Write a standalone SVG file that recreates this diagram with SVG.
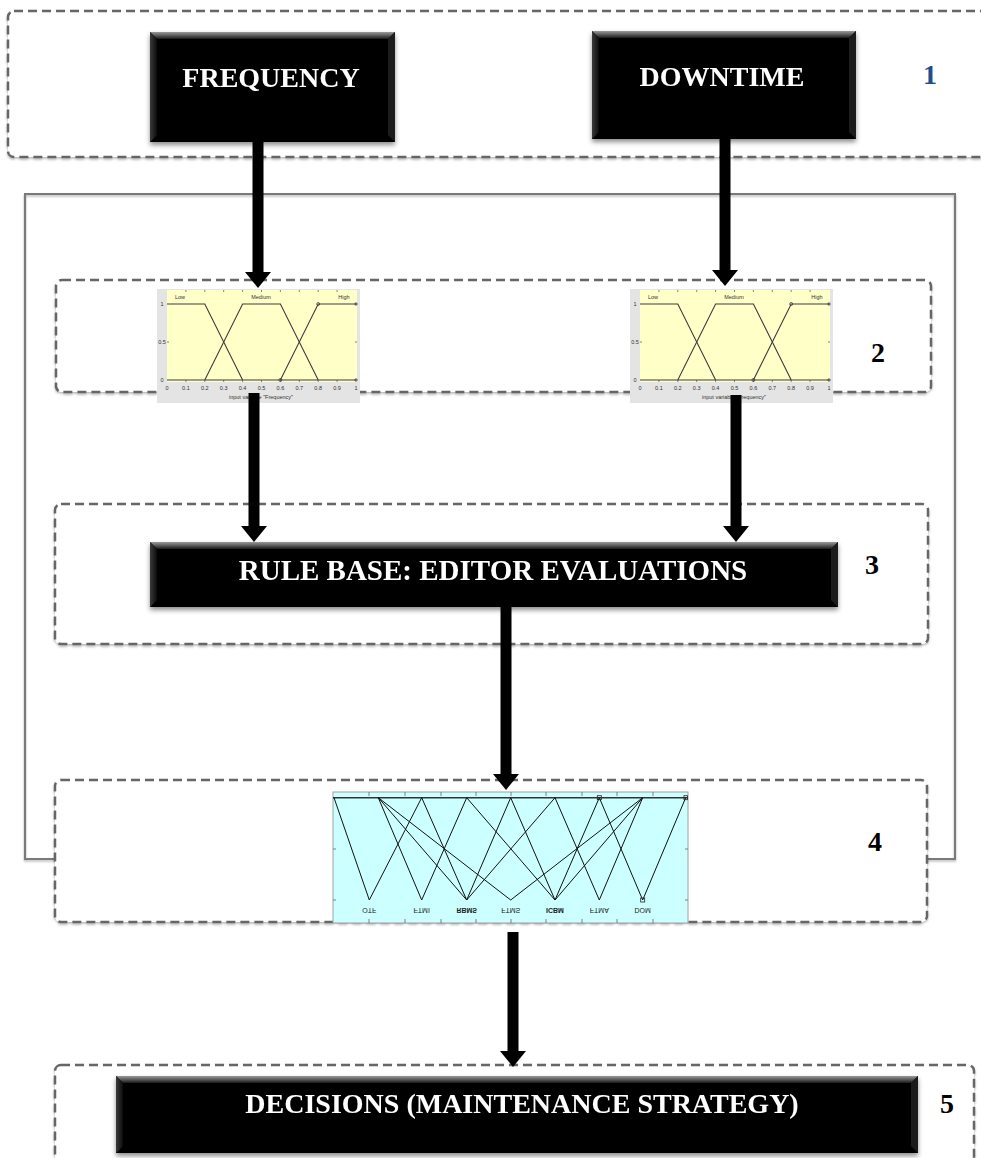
<svg xmlns="http://www.w3.org/2000/svg" xmlns:xlink="http://www.w3.org/1999/xlink" width="981" height="1158" viewBox="0 0 981 1158">
  <style>
    .stage { fill: #ffffff; stroke: #666666; stroke-width: 2.5; stroke-dasharray: 9 5; }
    .frame { fill: none; stroke: #7a7a7a; stroke-width: 2; }
    .title { font-family: "Liberation Serif", "Times New Roman", serif; font-weight: bold; font-size: 28px; fill: #ffffff; text-anchor: middle; }
    .num { font-family: "Liberation Serif", "Times New Roman", serif; font-weight: bold; font-size: 28px; fill: #000000; text-anchor: middle; }
    .arrow { stroke: #000000; stroke-width: 11; fill: none; marker-end: url(#head); }
    .mf { fill: none; stroke: #3c3c3c; stroke-width: 1.1; }
    .tick { stroke: #666666; stroke-width: 0.8; }
    .tiny { font-family: "Liberation Sans", Arial, sans-serif; font-size: 5.5px; fill: #333333; text-anchor: middle; }
    .mfo { fill: none; stroke: #111111; stroke-width: 1; }
    .lab { font-family: "Liberation Sans", Arial, sans-serif; font-size: 7px; fill: #222222; text-anchor: middle; }
  </style>
  <defs>
    <filter id="shadow" x="-10%" y="-10%" width="120%" height="130%">
      <feDropShadow dx="0" dy="3" stdDeviation="2.5" flood-color="#000000" flood-opacity="0.45"/>
    </filter>
    <filter id="soft" x="-5%" y="-5%" width="110%" height="110%">
      <feDropShadow dx="0" dy="1.5" stdDeviation="1" flood-color="#000000" flood-opacity="0.3"/>
    </filter>
    <linearGradient id="bevelTop" x1="0" y1="0" x2="0" y2="1">
      <stop offset="0" stop-color="#9a9a9a"/>
      <stop offset="1" stop-color="#1a1a1a"/>
    </linearGradient>
    <linearGradient id="bevelSide" x1="0" y1="0" x2="1" y2="0">
      <stop offset="0" stop-color="#3a3a3a"/>
      <stop offset="1" stop-color="#0a0a0a"/>
    </linearGradient>
    <marker id="head" markerUnits="userSpaceOnUse" markerWidth="16" markerHeight="26" refX="2" refY="13" orient="auto">
      <path d="M0,0 L16,13 L0,26 Z" fill="#000000"/>
    </marker>

    <!-- membership-function plot for the two inputs (Low / Medium / High) -->
    <g id="mfPlot">
      <rect x="0" y="0" width="203" height="114" fill="#e4e4e4"/>
      <rect x="10" y="1" width="190" height="92" fill="#ffffc8"/>
      <g class="tick">
        <path d="M28.9,1 v2 M47.8,1 v2 M66.7,1 v2 M85.6,1 v2 M104.5,1 v2 M123.4,1 v2 M142.3,1 v2 M161.2,1 v2 M180.1,1 v2"/>
        <path d="M28.9,93 v-2 M47.8,93 v-2 M66.7,93 v-2 M85.6,93 v-2 M104.5,93 v-2 M123.4,93 v-2 M142.3,93 v-2 M161.2,93 v-2 M180.1,93 v-2"/>
        <path d="M200,15 h-2 M200,53 h-2 M200,91 h-2 M10,53 h2"/>
      </g>
      <path class="mf" d="M10,91 L199,91"/>
      <path class="mf" d="M10,15 L47.8,15 L85.6,91"/>
      <path class="mf" d="M47.8,91 L85.6,15 L123.4,15 L161.2,91"/>
      <path class="mf" d="M123.4,91 L161.2,15 L199,15"/>
      <g fill="none" stroke="#3c3c3c" stroke-width="0.8">
        <circle cx="161.2" cy="15" r="1.5"/>
        <circle cx="199" cy="15" r="1.2"/>
        <circle cx="123.4" cy="91" r="1.5"/>
        <circle cx="199" cy="91" r="1.2"/>
      </g>
      <text class="tiny" x="23" y="10">Low</text>
      <text class="tiny" x="104" y="10">Medium</text>
      <text class="tiny" x="187" y="10">High</text>
      <text class="tiny" x="5" y="17">1</text>
      <text class="tiny" x="5" y="55">0.5</text>
      <text class="tiny" x="5" y="93">0</text>
      <g class="tiny">
        <text x="10" y="101">0</text>
        <text x="28.9" y="101">0.1</text>
        <text x="47.8" y="101">0.2</text>
        <text x="66.7" y="101">0.3</text>
        <text x="85.6" y="101">0.4</text>
        <text x="104.5" y="101">0.5</text>
        <text x="123.4" y="101">0.6</text>
        <text x="142.3" y="101">0.7</text>
        <text x="161.2" y="101">0.8</text>
        <text x="180.1" y="101">0.9</text>
        <text x="199" y="101">1</text>
      </g>
      <text class="tiny" x="104" y="110">input variable "Frequency"</text>
    </g>
  </defs>

  <rect width="981" height="1158" fill="#ffffff"/>

  <!-- solid frame around stages 2 to 4 -->
  <rect id="inference-frame" class="frame" x="25" y="194" width="930" height="665" filter="url(#soft)"/>

  <!-- stage 1: inputs -->
  <g id="stage-1">
    <rect class="stage" x="8" y="11" width="1000" height="146" rx="6" filter="url(#soft)"/>
    <text x="930" y="84" class="num" fill="#1f4e8c" style="fill:#1f4e8c">1</text>
  </g>
  <g id="frequency" filter="url(#shadow)">
    <rect x="150" y="32" width="245" height="110" fill="#050505"/>
    <polygon points="150,32 395,32 388,39 157,39" fill="url(#bevelTop)"/>
    <polygon points="150,32 157,39 157,135 150,142" fill="url(#bevelSide)"/>
    <polygon points="395,32 388,39 388,135 395,142" fill="#1c1c1c"/>
    <text class="title" x="271" y="87">FREQUENCY</text>
  </g>
  <g id="downtime" filter="url(#shadow)">
    <rect x="592" y="31" width="264" height="108" fill="#050505"/>
    <polygon points="592,31 856,31 849,38 599,38" fill="url(#bevelTop)"/>
    <polygon points="592,31 599,38 599,132 592,139" fill="url(#bevelSide)"/>
    <polygon points="856,31 849,38 849,132 856,139" fill="#1c1c1c"/>
    <text class="title" x="722" y="86">DOWNTIME</text>
  </g>

  <!-- stage 2: fuzzification -->
  <g id="stage-2">
    <rect class="stage" x="56" y="280" width="875" height="112" rx="6" filter="url(#soft)"/>
    <text class="num" x="878" y="362">2</text>
  </g>
  <g id="frequency-mf">
    <use xlink:href="#mfPlot" transform="translate(157,289)"/>
  </g>
  <g id="downtime-mf">
    <use xlink:href="#mfPlot" transform="translate(630,289)"/>
  </g>

  <!-- stage 3: rule base -->
  <g id="stage-3">
    <rect class="stage" x="55" y="504" width="873" height="140" rx="6" filter="url(#soft)"/>
    <text class="num" x="872" y="574">3</text>
  </g>
  <g id="rule-base" filter="url(#shadow)">
    <rect x="150" y="542" width="688" height="65" fill="#050505"/>
    <polygon points="150,542 838,542 831,549 157,549" fill="url(#bevelTop)"/>
    <polygon points="150,542 157,549 157,600 150,607" fill="url(#bevelSide)"/>
    <polygon points="838,542 831,549 831,600 838,607" fill="#1c1c1c"/>
    <text class="title" x="493" y="580" style="font-size:29px">RULE BASE: EDITOR EVALUATIONS</text>
  </g>

  <!-- stage 4: output membership functions -->
  <g id="stage-4">
    <rect class="stage" x="55" y="780" width="872" height="142" rx="6" filter="url(#soft)"/>
    <text class="num" x="875" y="851">4</text>
  </g>
  <g id="output-mf">
    <rect x="333" y="792" width="355" height="131" fill="#ccffff" stroke="#a0a0a0" stroke-width="1"/>
    <g class="tick">
      <path d="M369,792 v4 M405,792 v4 M441,792 v4 M476,792 v4 M511,792 v4 M546,792 v4 M582,792 v4 M617,792 v4 M653,792 v4"/>
      <path d="M369,923 v-4 M405,923 v-4 M441,923 v-4 M476,923 v-4 M511,923 v-4 M546,923 v-4 M582,923 v-4 M617,923 v-4 M653,923 v-4"/>
      <path d="M688,849 h-3 M688,900 h-3 M333,849 h3 M333,900 h3"/>
    </g>
    <path d="M333,797.7 H688" stroke="#333333" stroke-width="1.6"/>
    <path class="mfo" d="M334,797.7 L369.3,900 L421.7,797.7"/>
    <path class="mfo" d="M378.3,797.7 L421.7,900 L466.7,797.7"/>
    <path class="mfo" d="M378.3,797.7 L466.7,900 L510.7,797.7"/>
    <path class="mfo" d="M421.7,797.7 L466.7,900 L555,797.7"/>
    <path class="mfo" d="M378.3,797.7 L510.7,900 L642.7,797.7"/>
    <path class="mfo" d="M466.7,797.7 L555,900 L642.7,797.7"/>
    <path class="mfo" d="M510.7,797.7 L555,900 L599.3,797.7"/>
    <path class="mfo" d="M555,797.7 L599.3,900 L642.7,797.7"/>
    <path class="mfo" d="M599.3,797.7 L642.7,900 L685.7,797.7"/>
    <g fill="none" stroke="#222222" stroke-width="0.8">
      <rect x="597.3" y="795.7" width="4" height="4"/>
      <rect x="640.7" y="898" width="4" height="4"/>
      <rect x="684" y="795.7" width="3.5" height="4"/>
    </g>
    <g class="lab">
      <text transform="translate(369.3,908) scale(1,-1)">OTF</text>
      <text transform="translate(421.7,908) scale(1,-1)">FTMI</text>
      <text transform="translate(466.7,908) scale(1,-1)" font-weight="bold">RBMS</text>
      <text transform="translate(510.7,908) scale(1,-1)">FTMS</text>
      <text transform="translate(555,908) scale(1,-1)" font-weight="bold">ICBM</text>
      <text transform="translate(599.3,908) scale(1,-1)">FTMA</text>
      <text transform="translate(642.7,908) scale(1,-1)">DOM</text>
    </g>
  </g>

  <!-- stage 5: decisions -->
  <g id="stage-5">
    <rect class="stage" x="55" y="1065" width="919" height="120" rx="6" filter="url(#soft)"/>
    <text class="num" x="947" y="1113">5</text>
  </g>
  <g id="decisions" filter="url(#shadow)">
    <rect x="116" y="1076" width="802" height="77" fill="#050505"/>
    <polygon points="116,1076 918,1076 911,1083 123,1083" fill="url(#bevelTop)"/>
    <polygon points="116,1076 123,1083 123,1146 116,1153" fill="url(#bevelSide)"/>
    <polygon points="918,1076 911,1083 911,1146 918,1153" fill="#1c1c1c"/>
    <text class="title" x="522" y="1113">DECISIONS (MAINTENANCE STRATEGY)</text>
  </g>

  <!-- connectors -->
  <g id="connectors">
    <line class="arrow" x1="258" y1="142" x2="258" y2="274"/>
    <line class="arrow" x1="725" y1="139" x2="725" y2="272"/>
    <line class="arrow" x1="254" y1="393" x2="254" y2="528"/>
    <line class="arrow" x1="736" y1="395" x2="736" y2="528"/>
    <line class="arrow" x1="506" y1="607" x2="506" y2="776"/>
    <line class="arrow" x1="513" y1="932" x2="513" y2="1053"/>
  </g>
</svg>
